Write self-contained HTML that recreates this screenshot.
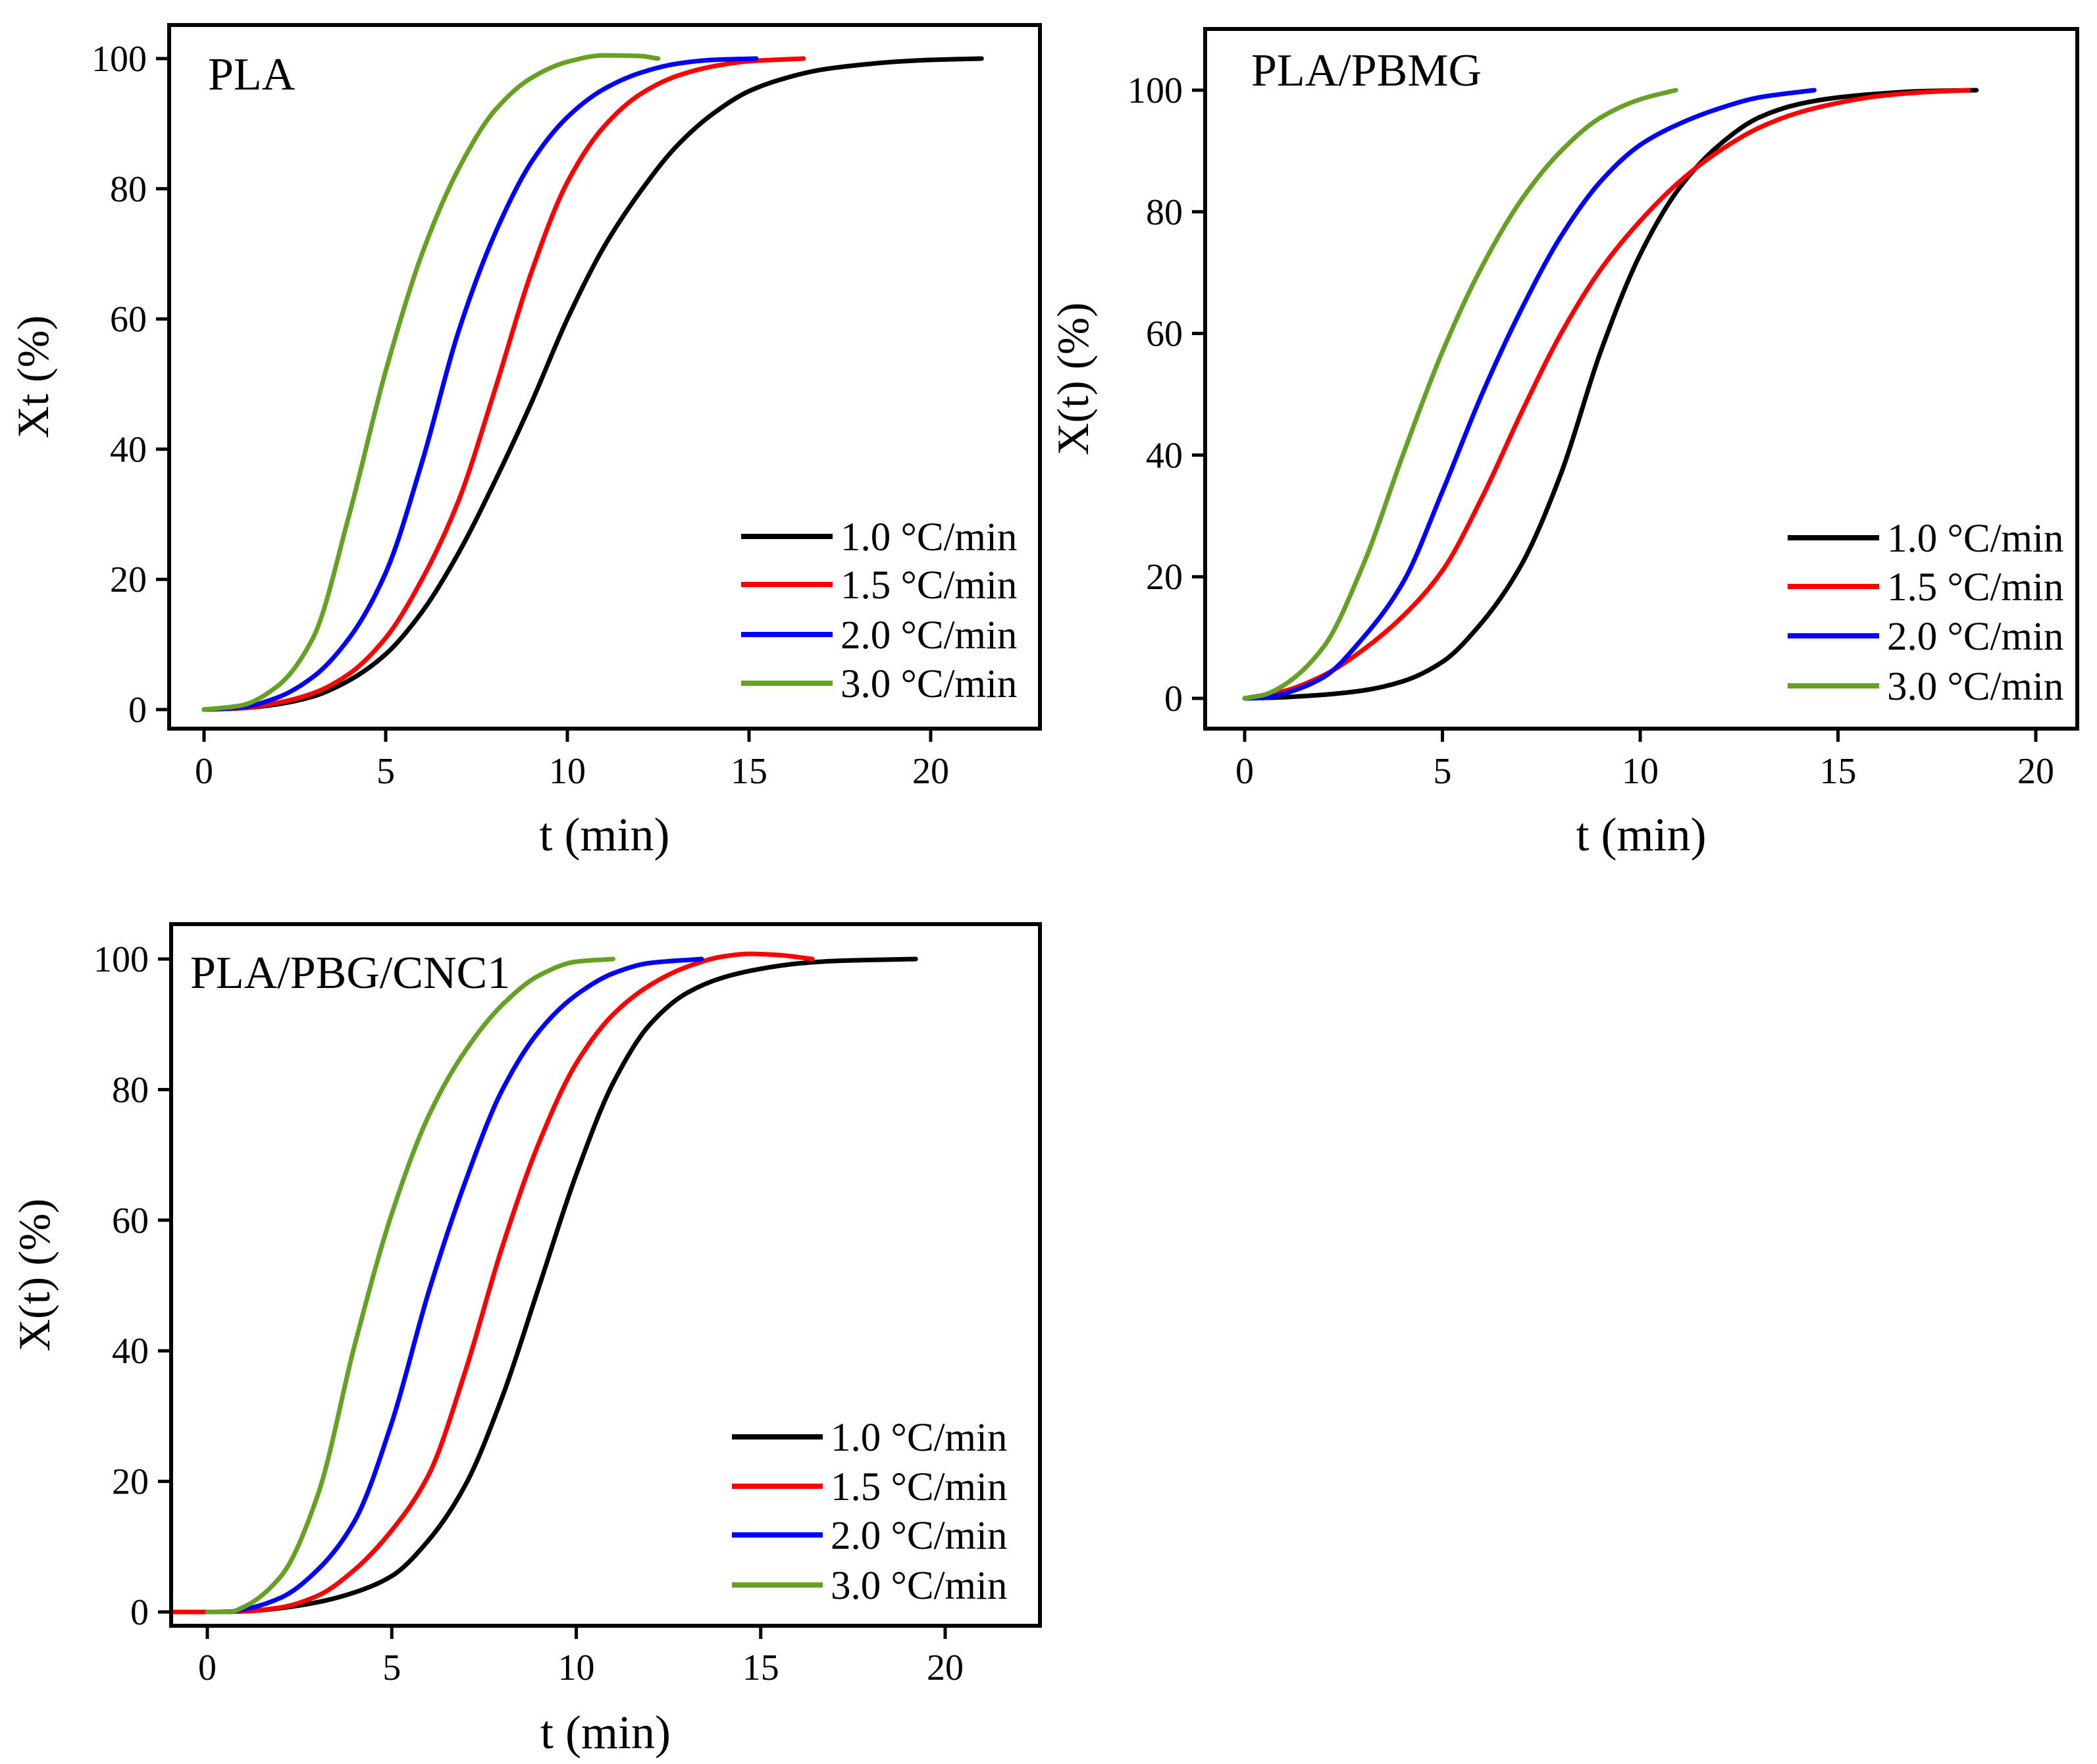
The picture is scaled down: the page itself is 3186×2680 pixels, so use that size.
<!DOCTYPE html>
<html><head><meta charset="utf-8">
<style>
html,body{margin:0;padding:0;background:#fff;}
svg{display:block;font-family:"Liberation Serif",serif;}
</style></head>
<body>
<svg id="fig" width="3186" height="2680" viewBox="0 0 3186 2680" xmlns="http://www.w3.org/2000/svg">
<rect width="3186" height="2680" fill="#fff"/>
</svg>
<script>
// ---- Data (t in min, X in %) ----
const rateLabels = ["1.0 °C/min","1.5 °C/min","2.0 °C/min","3.0 °C/min"];
const xTicks = [0,5,10,15,20];
const yTicks = [0,20,40,60,80,100];

// Panel PLA
const plaBlackT = [0,1,2,3,4,5,6,7,8,9,10,11,12,13,14,15,16,17,18,19,20,21.4];
const plaBlackX = [0,0.2,0.8,2,4.5,8.5,15,24,35,47,60,71,79.5,86.5,91.5,95,97,98.3,99,99.5,99.8,100];
const plaRedT = [0,1,2,3,4,5,6,7,8,9,10,11,12,13,14,15,16.5];
const plaRedX = [0,0.2,1,2.5,5.5,11,20,32,49,67,81,89.5,94.5,97.3,98.8,99.6,100];
const plaBlueT = [0,1,2,3,4,5,6,7,8,9,10,11,12,13,14,15.2];
const plaBlueX = [0,0.3,1.8,5,11,21,38,58,73,84,91,95.3,97.8,99.2,99.8,100];
const plaGreenT = [0,1,2,3,4,5,6,7,8,9,10,11,12,12.5];
const plaGreenX = [0,0.6,3.5,11,30,52,70,83,92,97,99.5,100.5,100.4,100];

// Panel PLA/PBMG
const pbmgBlackT = [0,1,2,3,4,5,6,7,8,9,10,11,12,13,14,15,16,17,18.5];
const pbmgBlackX = [0,0.2,0.6,1.3,2.8,6,12.5,22,37,57,73,84,91,95.5,97.7,98.8,99.4,99.8,100];
const pbmgRedT = [0,1,2,3,4,5,6,7,8,9,10,11,12,13,14,15,16,17,18.3];
const pbmgRedX = [0,1.2,3.8,8,13.5,21,33,47,60,70.5,78.5,85,90,93.8,96.3,97.9,99,99.6,100];
const pbmgBlueT = [0,0.5,1,2,3,4,5,6,7,8,9,10,11,12,13,14.4];
const pbmgBlueX = [0,0.1,0.8,3.5,10,19,34,50,64,76,85,91,94.5,97,98.8,100];
const pbmgGreenT = [0,0.5,1,2,3,4,5,6,7,8,9,10,10.9];
const pbmgGreenX = [0,0.6,2.2,8.5,22,40,57,71,82,90,95.5,98.5,100];

// Panel PLA/PBG/CNC1
const cncBlackT = [-1,0,1,2,3,4,5,6,7,8,9,10,11,12,13,14,15,16,17,19.2];
const cncBlackX = [0,0,0.1,0.6,1.5,3,5.5,11,19.5,33,50,67,81,90,94.8,97.2,98.5,99.3,99.7,100];
const cncRedT = [-1,0,1,2,3,4,5,6,7,8,9,10,11,12,13,14,14.7,15.5,16.4];
const cncRedX = [0,0,0.1,0.7,2.5,6.5,12.5,21,37,56,72,84,91.5,96,98.8,100.4,100.8,100.6,100];
const cncBlueT = [0,0.5,1,2,3,4,5,6,7,8,9,10,11,12,13.4];
const cncBlueX = [0,0,0.4,2.2,6.5,14,29,49,66,80,89,94.5,97.8,99.4,100];
const cncGreenT = [0,0.6,1,2,3,4,5,6,7,8,9,10,11];
const cncGreenX = [0,0,0.8,5.5,18,41,61,76,86,93,97.5,99.6,100];

const colors = ["#000000","#ff0000","#0000ff","#66a123"];

const panels = [
 {name:"pla", title:"PLA", ylab:"Xt (%)",
  frame:[257,38,1580,1107], x0:310, x20:1414, y0:1078, y100:89,
  titlePos:[316,136], ylabX:50, tickBase:1190, xlabBase:1292,
  leg:[1126,1265,[815,888,964,1038]],
  series:[[plaBlackT,plaBlackX],[plaRedT,plaRedX],[plaBlueT,plaBlueX],[plaGreenT,plaGreenX]]},
 {name:"pla-pbmg", title:"PLA/PBMG", ylab:"X(t) (%)",
  frame:[1831,44,3156,1107], x0:1891, x20:3093, y0:1061, y100:137,
  titlePos:[1901,130], ylabX:1630, tickBase:1190, xlabBase:1292,
  leg:[2716,2855,[817,891,966,1042]],
  series:[[pbmgBlackT,pbmgBlackX],[pbmgRedT,pbmgRedX],[pbmgBlueT,pbmgBlueX],[pbmgGreenT,pbmgGreenX]]},
 {name:"pla-pbg-cnc1", title:"PLA/PBG/CNC1", ylab:"X(t) (%)",
  frame:[260,1404,1580,2470], x0:315, x20:1436, y0:2449, y100:1457,
  titlePos:[289,1501], ylabX:52, tickBase:2552, xlabBase:2656,
  leg:[1112,1250,[2183,2258,2332,2408]],
  series:[[cncBlackT,cncBlackX],[cncRedT,cncRedX],[cncBlueT,cncBlueX],[cncGreenT,cncGreenX]]}
];

const NS="http://www.w3.org/2000/svg";
const svg=document.getElementById("fig");
function mk(tag,attrs,parent){const e=document.createElementNS(NS,tag);for(const k in attrs)e.setAttribute(k,attrs[k]);(parent||svg).appendChild(e);return e;}

function monoPath(pts){
  const n=pts.length;
  const dx=[],m=[];
  for(let i=0;i<n-1;i++){dx.push(pts[i+1][0]-pts[i][0]);m.push((pts[i+1][1]-pts[i][1])/dx[i]);}
  const tg=new Array(n);
  tg[0]=m[0];tg[n-1]=m[n-2];
  for(let i=1;i<n-1;i++){
    if(m[i-1]*m[i]<=0)tg[i]=0;
    else{const w1=2*dx[i]+dx[i-1],w2=dx[i]+2*dx[i-1];tg[i]=(w1+w2)/(w1/m[i-1]+w2/m[i]);}
  }
  let d="M"+pts[0][0].toFixed(1)+","+pts[0][1].toFixed(1);
  for(let i=0;i<n-1;i++){
    const h=dx[i]/3;
    d+=" C"+(pts[i][0]+h).toFixed(1)+","+(pts[i][1]+tg[i]*h).toFixed(1)+" "+(pts[i+1][0]-h).toFixed(1)+","+(pts[i+1][1]-tg[i+1]*h).toFixed(1)+" "+pts[i+1][0].toFixed(1)+","+pts[i+1][1].toFixed(1);
  }
  return d;
}

panels.forEach(p=>{
  const g=mk("g",{});
  
  
  const xs=t=>p.x0+(p.x20-p.x0)*t/20;
  const ys=v=>p.y0+(p.y100-p.y0)*v/100;
  const [L,T,R,B]=p.frame;
  const cg=mk("g",{},g);
  
  
  p.series.forEach((s,i)=>{
    const pts=s[0].map((t,j)=>[xs(t),ys(s[1][j])]);
    const path=mk("path",{d:monoPath(pts),fill:"none",stroke:colors[i],"stroke-width":7,"stroke-linejoin":"round","stroke-linecap":"round"},cg);
    
    
  });
  const fr=mk("rect",{x:L,y:T,width:R-L,height:B-T,fill:"none",stroke:"#000","stroke-width":6},g);
  
  
  xTicks.forEach(t=>{
    const x=xs(t);
    const tl=mk("line",{x1:x,y1:B,x2:x,y2:B+20,stroke:"#000","stroke-width":5},g);
    
    
    const tx=mk("text",{x:x,y:p.tickBase,"text-anchor":"middle","font-size":56},g);
    tx.textContent=t;
    
    
  });
  yTicks.forEach(v=>{
    const y=ys(v);
    const tl=mk("line",{x1:L-20,y1:y,x2:L,y2:y,stroke:"#000","stroke-width":5},g);
    
    
    const tx=mk("text",{x:L-34,y:y+19,"text-anchor":"end","font-size":56},g);
    tx.textContent=v;
    
    
  });
  const xl=mk("text",{x:(L+R)/2,y:p.xlabBase,"text-anchor":"middle","font-size":72},g);
  xl.textContent="t (min)";
  
  
  const cy=(T+B)/2;
  const yl=mk("text",{x:p.ylabX,y:cy,"text-anchor":"middle","dominant-baseline":"central","font-size":68,transform:"rotate(-90 "+p.ylabX+" "+cy+")"},g);
  yl.textContent=p.ylab;
  
  
  const ti=mk("text",{x:p.titlePos[0],y:p.titlePos[1],"font-size":70},g);
  ti.textContent=p.title;
  
  
  const lg=mk("g",{},g);
  
  
  p.leg[2].forEach((y,i)=>{
    const ln=mk("line",{x1:p.leg[0],y1:y,x2:p.leg[1],y2:y,stroke:colors[i],"stroke-width":8},lg);
    
    
    const tx=mk("text",{x:p.leg[1]+12,y:y+21,"font-size":61},lg);
    tx.textContent=rateLabels[i];
    
    
  });
});
</script>
</body></html>
